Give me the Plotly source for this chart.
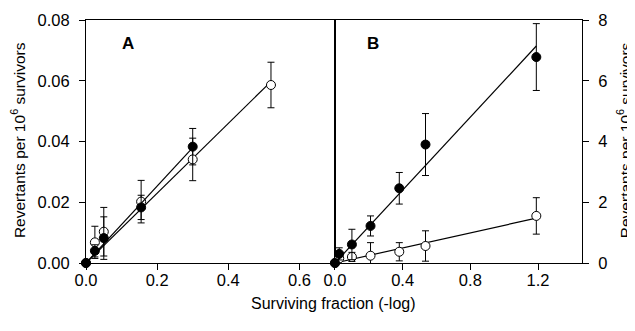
import numpy as np
import plotly.graph_objects as go

# Panel A data (left axis)
a_filled_x = [0.0, 0.025, 0.05, 0.155, 0.30]
a_filled_y = [0.0, 0.004, 0.0082, 0.0183, 0.0383]
a_filled_err = [0.0, 0.002, 0.007, 0.004, 0.006]
a_open_x = [0.0, 0.025, 0.05, 0.155, 0.30, 0.52]
a_open_y = [0.0, 0.0068, 0.0103, 0.0202, 0.0341, 0.0586]
a_open_err = [0.0, 0.0053, 0.008, 0.007, 0.007, 0.0075]

# Panel B data (right axis)
b_filled_x = [0.0, 0.025, 0.10, 0.21, 0.38, 0.535, 1.19]
b_filled_y = [0.0, 0.30, 0.61, 1.22, 2.46, 3.90, 6.78]
b_filled_err = [0.0, 0.20, 0.50, 0.33, 0.52, 1.02, 1.10]
b_open_x = [0.0, 0.025, 0.10, 0.21, 0.38, 0.535, 1.19]
b_open_y = [0.0, 0.15, 0.20, 0.24, 0.37, 0.56, 1.55]
b_open_err = [0.0, 0.10, 0.15, 0.43, 0.30, 0.50, 0.60]

a_xticks = [0.0, 0.2, 0.4, 0.6]
a_yticks = [0.0, 0.02, 0.04, 0.06, 0.08]
b_xticks = [0.0, 0.4, 0.8, 1.2]
b_yticks = [0, 2, 4, 6, 8]

FONT = "Liberation Sans, Arial, sans-serif"


def origin_fit(x, y):
    x = np.asarray(x)
    y = np.asarray(y)
    slope = float((x * y).sum() / (x * x).sum())
    xs = np.array([0.0, x.max()])
    return xs, slope * xs


fig = go.Figure()


def add_series(x, y, err, filled, xa, ya):
    fx, fy = origin_fit(x, y)
    fig.add_trace(go.Scatter(x=fx, y=fy, mode="lines", xaxis=xa, yaxis=ya,
                             line=dict(color="black", width=1.2),
                             showlegend=False, hoverinfo="skip"))
    fig.add_trace(go.Scatter(
        x=x, y=y, mode="markers", xaxis=xa, yaxis=ya, cliponaxis=False,
        marker=dict(size=9, symbol="circle",
                    color="black" if filled else "white",
                    line=dict(color="black", width=1)),
        error_y=dict(type="data", array=err, color="black", thickness=1, width=3.5),
        showlegend=False))


add_series(a_open_x, a_open_y, a_open_err, False, "x", "y")
add_series(a_filled_x, a_filled_y, a_filled_err, True, "x", "y")
add_series(b_open_x, b_open_y, b_open_err, False, "x2", "y2")
add_series(b_filled_x, b_filled_y, b_filled_err, True, "x2", "y2")

tickfont = dict(family=FONT, size=16.5, color="black")
common = dict(showline=True, linecolor="black", linewidth=1, mirror=True,
              ticks="outside", ticklen=6, tickwidth=1, tickcolor="black",
              showgrid=False, zeroline=False, tickfont=tickfont,
              automargin=False)

# The page body has an 8px default margin, so the figure is sized to fit.
split = 0.502
fig.update_layout(
    width=627, height=323,
    margin=dict(l=78, r=53, t=12, b=68),
    paper_bgcolor="white", plot_bgcolor="white",
    font=dict(family=FONT, color="black"),
    xaxis=dict(domain=[0, split], range=[0, 0.7], tickvals=a_xticks,
               tickformat=".1f", anchor="y", ticklabelstandoff=-4, **common),
    yaxis=dict(domain=[0, 1], range=[0, 0.08], tickvals=a_yticks,
               tickformat=".2f", anchor="x", ticklabelstandoff=6, **common),
    xaxis2=dict(domain=[split, 1], range=[0, 1.46], tickvals=b_xticks,
                tickformat=".1f", anchor="y2", ticklabelstandoff=-4, **common),
    yaxis2=dict(domain=[0, 1], range=[0, 8], tickvals=b_yticks,
                side="right", anchor="x2", ticklabelstandoff=6, **common),
    annotations=[
        dict(text="<b>A</b>", x=0.117, y=0.0722, xref="x", yref="y",
             showarrow=False, font=dict(family=FONT, size=17, color="black")),
        dict(text="<b>B</b>", x=0.227, y=7.23, xref="x2", yref="y2",
             showarrow=False, font=dict(family=FONT, size=17, color="black")),
        dict(text="Surviving fraction (-log)", x=0.498, y=-0.165,
             xref="paper", yref="paper", xanchor="center", yanchor="middle",
             showarrow=False, font=dict(family=FONT, size=16, color="black")),
        dict(text="Revertants per 10<sup>6</sup> survivors", x=-0.137, y=0.506,
             xref="paper", yref="paper", xanchor="center", yanchor="middle",
             textangle=-90, showarrow=False,
             font=dict(family=FONT, size=15.5, color="black")),
        dict(text="Revertants per 10<sup>6</sup> survivors", x=1.085, y=0.506,
             xref="paper", yref="paper", xanchor="center", yanchor="middle",
             textangle=-90, showarrow=False,
             font=dict(family=FONT, size=15.5, color="black")),
    ],
)

fig.write_html("out.html")
